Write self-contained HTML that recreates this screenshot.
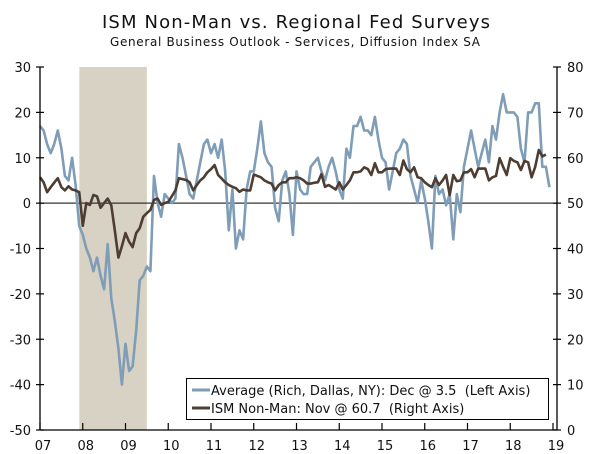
<!DOCTYPE html>
<html><head><meta charset="utf-8"><style>
html,body{margin:0;padding:0;background:#fff;}
svg{display:block;font-family:"DejaVu Sans","Liberation Sans",sans-serif;}
</style></head><body>
<svg id="c" width="600" height="454" viewBox="0 0 600 454">
<text x="296" y="28" font-size="18" text-anchor="middle" fill="#111" textLength="388">ISM Non-Man vs. Regional Fed Surveys</text>
<text x="295" y="46" font-size="12" text-anchor="middle" fill="#111" textLength="370">General Business Outlook - Services, Diffusion Index SA</text>
</svg>
<script>
const years=['07','08','09','10','11','12','13','14','15','16','17','18','19'];
const leftTicks=[30,20,10,0,-10,-20,-30,-40,-50];
const rightTicks=[80,70,60,50,40,30,20,10,0];
const recession=[2007.92,2009.5];
const avgSeries=[17,16,13,11,13,16,12,6,5,10,4,-5,
-7,-10,-12,-15,-12,-16,-19,-9,-21,-26,-32,-40,
-31,-37,-36,-28,-17,-16,-14,-15,6,0,-3,2,
1,0,1,13,10,6,2,1,5,9,13,14,
11,13,10,14,7,-6,3,-10,-6,-8,3,7,
7,12,18,11,9,8,-1,-4,5,7,2,-7,
7,3,2,2,8,9,10,7,5,8,10,7,
3,1,12,10,17,17,19,16,16,15,19,14,
10,9,3,7,11,12,14,13,6,3,0,5,
1,-4,-10,6,2,3,-0.5,2,-8,2,-2,8,
12,16,12,8,11,14,9,17,14,20,24,20,
20,20,19,12,9,20,20,22,22,8,8,3.5];
const ismSeries=[55.7,54.6,52.4,53.5,54.5,55.5,53.5,52.8,53.7,53.0,52.8,52.4,
45,50,49.6,51.8,51.5,49,50,51,49.5,44,38,40.5,
43.4,41.5,40.3,43.4,44.5,47,47.8,48.5,50.7,51,49.6,50,
50.3,51.5,52.8,55.5,55.3,55.1,54.6,52.8,54,55,55.7,56.8,
57.5,58.4,56.2,55.4,54.6,54,53.6,53.3,52.5,53,52.8,52.8,
56.3,56,55.7,55,54.6,54.3,52.8,54,54.6,54.6,55.5,55.5,
55.7,55.5,55,54.3,54.3,54.5,54.6,56.4,53.6,54,53.5,53,
54.6,53,54,55,56.8,56.8,57,57.9,57.5,56.2,58.8,56.8,
56.8,57.5,57.6,57.6,57.6,56.2,59.4,57.5,56.8,57.9,55.7,55.5,
54.6,54,53.5,55.5,54,55,56.2,51.8,56.2,54.8,55,56.8,
56.8,57.5,55.7,57.6,57.6,57.6,55,55.7,56,59.9,58,56.2,
59.9,59.3,59,57.3,59.3,59,55.7,58,61.7,60.3,60.7];
const legendLabels=['Average (Rich, Dallas, NY): Dec @ 3.5  (Left Axis)','ISM Non-Man: Nov @ 60.7  (Right Axis)'];

const NS='http://www.w3.org/2000/svg';
const svg=document.getElementById('c');
const X0=40,X1=553,YT=67,YB=430;
const xYear=t=>X0+(t-2007)*(X1-X0)/12;
const xMonth=m=>xYear(2007+m/12);
const yL=v=>YB-(v+50)*(YB-YT)/80;
const yR=v=>YB-v*(YB-YT)/80;
function el(tag,attrs,parent){const e=document.createElementNS(NS,tag);for(const k in attrs)e.setAttribute(k,attrs[k]);(parent||svg).appendChild(e);return e;}

const band=el('rect',{x:xYear(recession[0]),y:YT,width:xYear(recession[1])-xYear(recession[0]),height:YB-YT,fill:'#d7d2c3'});



const zl=el('line',{x1:X0,x2:557,y1:yL(0),y2:yL(0),stroke:'#333','stroke-width':1.3});



function pathFrom(arr,yf){return arr.map((v,i)=>(i?'L':'M')+xMonth(i).toFixed(1)+' '+yf(v).toFixed(1)).join(' ');}
const avg=el('path',{d:pathFrom(avgSeries,yL),fill:'none',stroke:'#7f9db6','stroke-width':2.6,'stroke-linejoin':'round'});


const ism=el('path',{d:pathFrom(ismSeries,yR),fill:'none',stroke:'#4d3d32','stroke-width':2.6,'stroke-linejoin':'round'});



// axes
const la=el('line',{x1:X0,x2:X0,y1:YT,y2:YB,stroke:'#000','stroke-width':1.3});


const ra=el('line',{x1:557,x2:557,y1:YT,y2:YB,stroke:'#000','stroke-width':1.3});


const ba=el('line',{x1:X0,x2:557,y1:YB,y2:YB,stroke:'#000','stroke-width':1.3});



leftTicks.forEach(v=>{
  el('line',{x1:X0-4,x2:X0+4,y1:yL(v),y2:yL(v),stroke:'#000','stroke-width':1.2});
  const t=el('text',{x:X0-9,y:yL(v)+5,'font-size':13,'text-anchor':'end',fill:'#111'});
  t.textContent=v;
  
  
});
rightTicks.forEach(v=>{
  el('line',{x1:553,x2:561,y1:yR(v),y2:yR(v),stroke:'#000','stroke-width':1.2});
  const t=el('text',{x:567,y:yR(v)+5,'font-size':13,fill:'#111'});
  t.textContent=v;
  
  
});
years.forEach((y,i)=>{
  const x=xYear(2007+i);
  el('line',{x1:x,x2:x,y1:YB-7,y2:YB,stroke:'#000','stroke-width':1.2});
  const t=el('text',{x:x+3,y:450,'font-size':13,'text-anchor':'middle',fill:'#111'});
  t.textContent=y;
  
  
});

// legend
const lg=el('g',{});


el('rect',{x:186.5,y:378.5,width:362,height:41,fill:'#fff',stroke:'#000','stroke-width':1},lg);
const colors=['#7f9db6','#4d3d32'];
legendLabels.forEach((s,i)=>{
  const y=390+i*18;
  const g=el('g',{},lg);
  
  
  el('line',{x1:192,x2:210,y1:y,y2:y,stroke:colors[i],'stroke-width':3},g);
  const t=el('text',{x:211,y:y+5,'font-size':13,fill:'#111'},g);
  t.textContent=s;
  t.setAttribute('xml:space','preserve');
  t.style.whiteSpace='pre';
});
</script>
</body></html>
